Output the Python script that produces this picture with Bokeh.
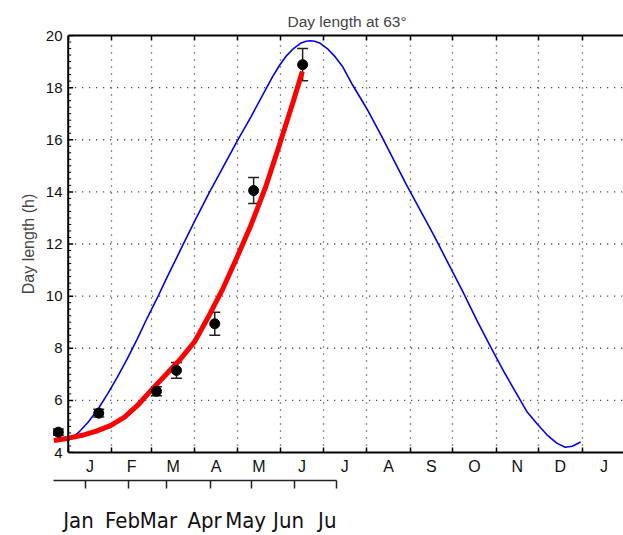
from bokeh.plotting import figure
from bokeh.models import (Range1d, FixedTicker, LinearAxis, Whisker, Label,
                          ColumnDataSource, TeeHead, Grid, Span)
from bokeh.embed import file_html
from bokeh.resources import INLINE

# ---------------- data ----------------
month_starts = [0, 31, 59, 90, 120, 151, 181, 212, 243, 273, 304, 334, 365]
month_mids = [15.5, 45, 74.5, 105, 135.5, 166, 196.5, 227.5, 258, 288.5, 319, 349.5, 380.5]
month_letters = ["J", "F", "M", "A", "M", "J", "J", "A", "S", "O", "N", "D", "J"]

y_ticks = [4, 6, 8, 10, 12, 14, 16, 18, 20]

# observed day lengths (day of year, hours, error)
obs_day = [-7, 21.7, 62.7, 76.9, 104.1, 131.7, 166.5]
obs_len = [4.78, 5.51, 6.35, 7.15, 8.94, 14.05, 18.88]
obs_err = [0.12, 0.15, 0.17, 0.30, 0.44, 0.50, 0.62]

# red fitted curve
fit_day = [-10.2, 0, 10, 20, 30, 40, 50, 60, 70, 80, 90, 100, 110, 120, 130, 140, 150, 160, 166.3]
fit_len = [4.46, 4.55, 4.66, 4.82, 5.03, 5.36, 5.85, 6.45, 7.02, 7.6, 8.27, 9.25, 10.3, 11.5, 12.75,
           14.15, 15.8, 17.5, 18.62]

# blue theoretical curve
theory_day = [0, 7, 14, 21, 28, 35, 42, 49, 56, 63, 70, 80, 90, 100, 110, 120, 130, 140, 145, 150,
              155, 160, 165, 169, 172, 175, 179, 184, 189, 195, 202, 212, 222, 230, 240, 250, 260,
              270, 280, 290, 300, 310, 318, 326, 333, 340, 347, 353, 358, 364]
theory_len = [4.46, 4.75, 5.15, 5.65, 6.25, 6.9, 7.6, 8.35, 9.15, 9.9, 10.7, 11.8, 12.9, 13.95,
              14.95, 15.95, 16.9, 17.9, 18.4, 18.85, 19.22, 19.5, 19.7, 19.78, 19.8, 19.78, 19.7,
              19.5, 19.22, 18.8, 18.1, 17.2, 16.2, 15.35, 14.3, 13.3, 12.3, 11.25, 10.2, 9.1, 8.05,
              7.05, 6.3, 5.55, 5.1, 4.68, 4.36, 4.2, 4.24, 4.4]

# second (pasted) month axis
alt_tick_days = [12.3, 42.8, 69.8, 101, 130, 160.8, 190.5]
alt_label_days = [7.3, 38.6, 64.1, 96.9, 126, 156.5, 184]
alt_labels = ["Jan", "Feb", "Mar", "Apr", "May", "Jun", "Ju"]

X_START, X_END = -11.15, 394.4
FONT = "Liberation Sans"
W, H = 623, 535
BL, BT, BB = 52, 35, 83

p = figure(width=W, height=H, x_range=Range1d(X_START, X_END), y_range=Range1d(4, 20),
           output_backend="svg", toolbar_location=None, x_axis_type=None,
           min_border_left=BL, min_border_right=0, min_border_top=BT, min_border_bottom=BB,
           title="Day length at 63°")
p.outline_line_color = None
p.background_fill_color = "white"
p.border_fill_color = "white"

p.title.text_font = FONT
p.title.text_font_size = "15.5px"
p.title.text_font_style = "normal"
p.title.align = "left"
p.title.offset = 235
p.title.standoff = 11

# pixel -> data conversions for tick marks drawn at day 0
px_per_day = (W - BL) / (X_END - X_START)
major_len = 5 / px_per_day
minor_len = 3 / px_per_day

# y axis labels (axis line and ticks are drawn at day 0 below)
ya = p.yaxis[0]
ya.ticker = FixedTicker(ticks=y_ticks)
ya.axis_label = "Day length (h)"
ya.axis_label_text_font = FONT
ya.axis_label_text_font_size = "16px"
ya.axis_label_text_font_style = "normal"
ya.axis_label_standoff = 6
ya.major_label_text_font = FONT
ya.major_label_text_font_size = "15px"
ya.major_label_text_color = "#111111"
ya.major_label_standoff = -10
ya.axis_line_color = None
ya.major_tick_line_color = None
ya.minor_tick_line_color = None
ya.major_tick_out = 0
ya.major_tick_in = 0
ya.minor_tick_out = 0
ya.minor_tick_in = 0

p.ygrid.visible = False

# bottom month axis
xa = LinearAxis(ticker=FixedTicker(ticks=month_mids, minor_ticks=month_starts),
                major_label_overrides={m: l for m, l in zip(month_mids, month_letters)},
                bounds=(0, X_END))
xa.major_tick_in = 0
xa.major_tick_out = 0
xa.minor_tick_in = 5
xa.minor_tick_out = 0
xa.minor_tick_line_width = 1.5
xa.axis_line_width = 2
xa.major_label_text_font = FONT
xa.major_label_text_font_size = "16px"
xa.major_label_text_color = "#111111"
xa.major_label_standoff = 5
xa.axis_label = " "
xa.axis_label_text_font_size = "2px"
xa.axis_label_standoff = -2
p.add_layout(xa, "below")

# second month axis
xa2 = LinearAxis(ticker=FixedTicker(ticks=alt_label_days, minor_ticks=alt_tick_days),
                 major_label_overrides={m: l for m, l in zip(alt_label_days, alt_labels)},
                 bounds=(-10.5, 190.6))
xa2.major_tick_in = 0
xa2.major_tick_out = 0
xa2.minor_tick_in = 0
xa2.minor_tick_out = 8
xa2.minor_tick_line_width = 1.5
xa2.axis_line_width = 1.5
xa2.axis_line_color = "#222222"
xa2.minor_tick_line_color = "#222222"
xa2.major_label_text_font = "Liberation Sans Narrow, Arial Narrow, DejaVu Sans Condensed, Liberation Sans"
xa2.major_label_text_font_size = "22px"
xa2.major_label_text_color = "#111111"
xa2.major_label_standoff = 19
p.add_layout(xa2, "below")

# top border with ticks
ta = LinearAxis(ticker=FixedTicker(ticks=[], minor_ticks=month_starts), bounds=(0, X_END))
ta.minor_tick_in = 5
ta.minor_tick_out = 0
ta.minor_tick_line_width = 1.5
ta.axis_line_width = 2
ta.major_label_text_font_size = "0px"
ta.major_label_standoff = 0
p.add_layout(ta, "above")

# dotted grid
vg = Grid(dimension=0, ticker=FixedTicker(ticks=month_starts))
vg.grid_line_color = "#222222"
vg.grid_line_dash = "1 6"
vg.grid_line_width = 1.3
p.add_layout(vg)

hy = y_ticks[1:-1]
p.segment(x0=[0] * len(hy), y0=hy, x1=[X_END] * len(hy), y1=hy,
          line_color="#222222", line_dash="1 6", line_width=1.3)

# y axis line and ticks at day 0
p.add_layout(Span(location=0, dimension="height", line_color="black", line_width=2))
p.segment(x0=[0] * len(y_ticks), y0=y_ticks, x1=[major_len] * len(y_ticks), y1=y_ticks,
          line_color="black", line_width=1.5)
minor_y = [y0 + k * 0.25 for y0 in y_ticks[:-1] for k in range(1, 8)]
p.segment(x0=[0] * len(minor_y), y0=minor_y, x1=[minor_len] * len(minor_y), y1=minor_y,
          line_color="black", line_width=1)

# curves
p.line(theory_day, theory_len, line_color="#0000ff", line_width=1.6)
p.line(fit_day, fit_len, line_color="#ff0000", line_width=5)

src = ColumnDataSource(dict(x=obs_day, y=obs_len,
                            upper=[v + e for v, e in zip(obs_len, obs_err)],
                            lower=[v - e for v, e in zip(obs_len, obs_err)]))
w = Whisker(source=src, base="x", upper="upper", lower="lower", line_color="#222222", line_width=1.5,
            upper_head=TeeHead(size=11, line_color="#222222", line_width=1.5),
            lower_head=TeeHead(size=11, line_color="#222222", line_width=1.5))
p.add_layout(w)
p.scatter("x", "y", source=src, size=10, color="black")

# small stray dash left of the pasted month axis
p.add_layout(Label(x=-24.5, y=-59, x_units="screen", y_units="screen", text="–",
                   text_font=FONT, text_font_size="20px", text_align="center",
                   text_baseline="middle", text_color="#111111"))

open("out.html", "w").write(file_html(p, INLINE))
